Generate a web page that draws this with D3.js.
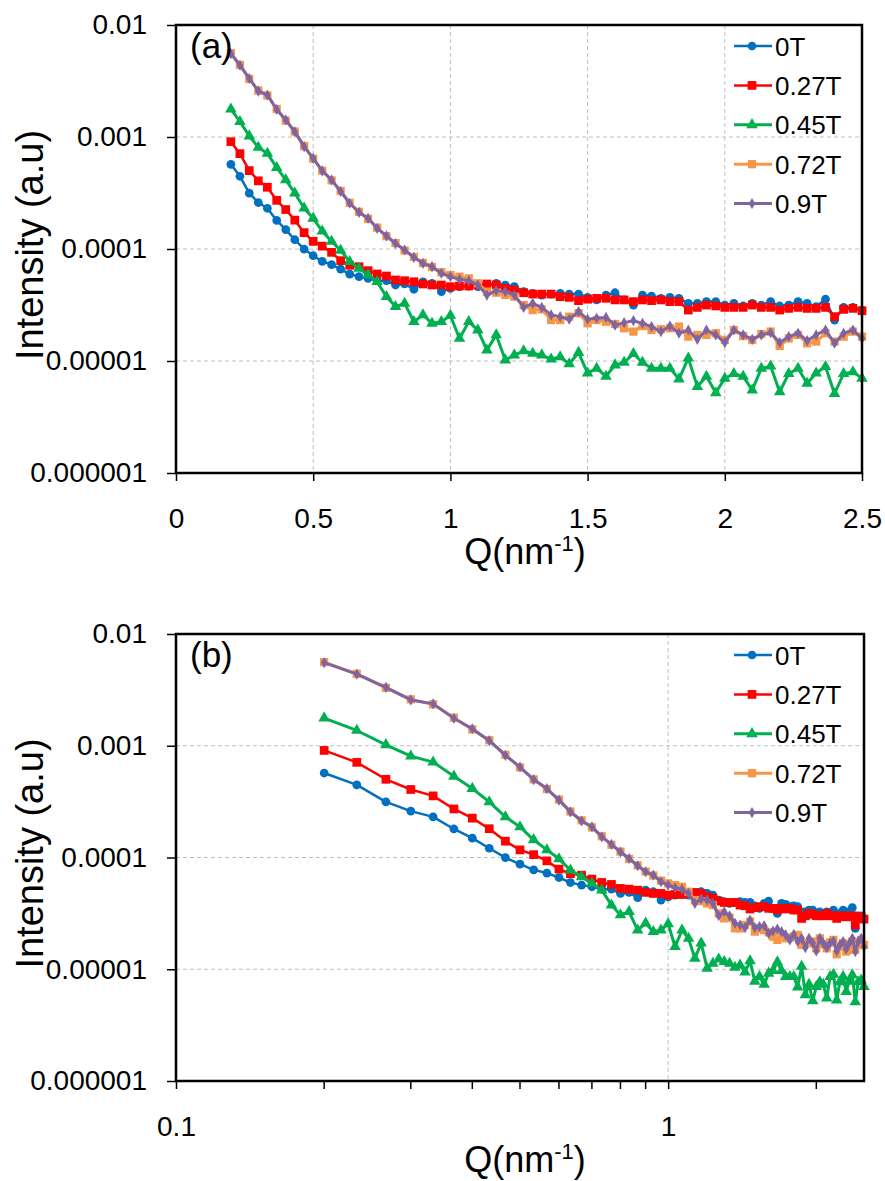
<!DOCTYPE html>
<html>
<head>
<meta charset="utf-8">
<script src="https://cdn.jsdelivr.net/npm/d3@7/dist/d3.min.js"></script>
<style>
  html, body { margin: 0; padding: 0; background: #fff; }
  svg { display: block; }
  text { font-family: "Liberation Sans", Arial, sans-serif; fill: #000; }
</style>
</head>
<body>
<svg id="chart" width="885" height="1181"></svg>
<script>
// ---------------- DATA ----------------
const Q = [0.200,0.233,0.267,0.300,0.333,0.367,0.400,0.433,0.467,0.500,
           0.533,0.567,0.600,0.633,0.667,0.700,0.733,0.767,0.800,0.833,
           0.867,0.900,0.933,0.967,1.000,1.033,1.067,1.100,1.133,1.167,
           1.200,1.233,1.267,1.300,1.333,1.367,1.400,1.433,1.467,1.500,
           1.533,1.567,1.600,1.633,1.667,1.700,1.733,1.767,1.800,1.833,
           1.867,1.900,1.933,1.967,2.000,2.033,2.067,2.100,2.133,2.167,
           2.200,2.233,2.267,2.300,2.333,2.367,2.400,2.433,2.467,2.500];

const I_0T = [5.70e-4,4.46e-4,3.15e-4,2.60e-4,2.31e-4,1.80e-4,1.49e-4,1.21e-4,9.98e-5,8.71e-5,
              7.76e-5,7.25e-5,6.62e-5,5.97e-5,5.66e-5,5.47e-5,5.21e-5,5.21e-5,4.77e-5,4.87e-5,
              4.37e-5,5.10e-5,4.94e-5,4.16e-5,4.45e-5,4.61e-5,4.67e-5,4.61e-5,4.77e-5,4.94e-5,
              4.77e-5,4.61e-5,4.16e-5,4.02e-5,3.88e-5,3.96e-5,4.02e-5,3.96e-5,3.96e-5,3.70e-5,
              3.51e-5,3.88e-5,4.07e-5,3.51e-5,3.16e-5,3.88e-5,3.80e-5,3.63e-5,3.70e-5,3.63e-5,
              3.27e-5,3.27e-5,3.39e-5,3.39e-5,3.16e-5,3.27e-5,3.10e-5,3.27e-5,3.16e-5,3.39e-5,
              3.10e-5,3.16e-5,3.39e-5,3.27e-5,3.06e-5,3.56e-5,2.32e-5,3.01e-5,3.01e-5,2.85e-5];

const I_027T = [9.08e-4,7.10e-4,5.01e-4,4.06e-4,3.56e-4,2.72e-4,2.25e-4,1.81e-4,1.40e-4,1.17e-4,
                1.06e-4,9.33e-5,7.87e-5,7.15e-5,6.95e-5,6.41e-5,5.98e-5,5.74e-5,5.29e-5,5.21e-5,
                5.10e-5,4.87e-5,4.77e-5,4.77e-5,4.61e-5,4.67e-5,4.67e-5,4.77e-5,4.87e-5,4.77e-5,
                4.45e-5,4.30e-5,4.07e-5,3.96e-5,3.96e-5,3.96e-5,3.75e-5,3.70e-5,3.46e-5,3.56e-5,
                3.63e-5,3.63e-5,3.51e-5,3.51e-5,3.39e-5,3.51e-5,3.46e-5,3.51e-5,3.39e-5,3.39e-5,
                2.85e-5,3.01e-5,3.16e-5,3.10e-5,3.01e-5,3.01e-5,3.01e-5,3.16e-5,3.01e-5,3.01e-5,
                2.85e-5,2.95e-5,3.01e-5,2.95e-5,2.95e-5,3.01e-5,2.49e-5,2.89e-5,2.95e-5,2.81e-5];

const I_045T = [1.77e-3,1.37e-3,1.02e-3,8.08e-4,7.14e-4,5.33e-4,4.14e-4,3.15e-4,2.31e-4,1.88e-4,
                1.44e-4,1.17e-4,9.73e-5,7.71e-5,6.71e-5,5.86e-5,5.10e-5,3.75e-5,3.06e-5,3.27e-5,
                2.24e-5,2.58e-5,2.17e-5,2.24e-5,2.55e-5,1.59e-5,2.24e-5,1.89e-5,1.25e-5,1.71e-5,
                1.02e-5,1.13e-5,1.23e-5,1.17e-5,1.13e-5,1.04e-5,1.09e-5,9.4e-6,1.19e-5,7.8e-6,
                8.6e-6,7.3e-6,9.2e-6,9.7e-6,1.16e-5,9.7e-6,8.6e-6,8.6e-6,8.6e-6,6.9e-6,
                1.06e-5,5.9e-6,7.3e-6,5.2e-6,7.0e-6,7.7e-6,7.3e-6,5.5e-6,8.6e-6,9.0e-6,
                5.3e-6,7.7e-6,8.6e-6,6.3e-6,7.8e-6,8.9e-6,5.1e-6,7.7e-6,8.0e-6,7.0e-6];

const I_072T = [5.60e-3,4.40e-3,3.30e-3,2.60e-3,2.35e-3,1.78e-3,1.40e-3,1.12e-3,8.30e-4,6.40e-4,
                5.00e-4,4.10e-4,3.30e-4,2.58e-4,2.15e-4,1.86e-4,1.55e-4,1.30e-4,1.13e-4,9.7e-5,
                8.5e-5,7.5e-5,6.9e-5,6.2e-5,5.86e-5,5.66e-5,5.47e-5,4.94e-5,4.16e-5,4.07e-5,
                3.88e-5,3.75e-5,3.16e-5,2.85e-5,2.89e-5,2.32e-5,2.32e-5,2.49e-5,2.67e-5,2.17e-5,
                2.32e-5,2.24e-5,2.14e-5,1.96e-5,1.83e-5,2.05e-5,1.89e-5,1.92e-5,1.96e-5,2.03e-5,
                1.65e-5,1.71e-5,1.71e-5,1.77e-5,1.54e-5,1.89e-5,1.67e-5,1.54e-5,1.74e-5,1.83e-5,
                1.36e-5,1.59e-5,1.71e-5,1.44e-5,1.49e-5,1.77e-5,1.49e-5,1.65e-5,1.83e-5,1.65e-5];

const I_09T = [5.55e-3,4.37e-3,3.33e-3,2.57e-3,2.37e-3,1.76e-3,1.42e-3,1.11e-3,8.20e-4,6.45e-4,
               4.98e-4,4.14e-4,3.26e-4,2.56e-4,2.12e-4,1.88e-4,1.53e-4,1.31e-4,1.12e-4,9.8e-5,
               8.43e-5,7.45e-5,6.95e-5,6.07e-5,5.66e-5,5.36e-5,5.21e-5,4.77e-5,3.88e-5,4.25e-5,
               4.16e-5,3.88e-5,3.01e-5,3.27e-5,3.01e-5,2.58e-5,2.49e-5,2.36e-5,2.76e-5,2.36e-5,
               2.41e-5,2.45e-5,2.09e-5,2.20e-5,2.29e-5,2.17e-5,2.03e-5,1.83e-5,2.05e-5,1.77e-5,
               1.89e-5,1.56e-5,1.89e-5,1.71e-5,1.46e-5,1.89e-5,1.71e-5,1.56e-5,1.71e-5,1.79e-5,
               1.46e-5,1.65e-5,1.77e-5,1.52e-5,1.71e-5,1.89e-5,1.44e-5,1.77e-5,1.89e-5,1.59e-5];

const seriesNames = ["0T", "0.27T", "0.45T", "0.72T", "0.9T"];
const seriesValues = [I_0T, I_027T, I_045T, I_072T, I_09T];
const seriesColors = ["#0070C0", "#FF0000", "#00B050", "#F79646", "#8064A2"];

const yTickValues = [1e-6, 1e-5, 1e-4, 1e-3, 1e-2];
const yTickLabels = ["0.000001", "0.00001", "0.0001", "0.001", "0.01"];
const xTicksA = [0, 0.5, 1, 1.5, 2, 2.5];
const xTickLabelsA = ["0", "0.5", "1", "1.5", "2", "2.5"];
const xTicksBMajor = [0.1, 1];
const xTickLabelsB = ["0.1", "1"];
const xTicksBMinor = [0.2, 0.3, 0.4, 0.5, 0.6, 0.7, 0.8, 0.9, 2];

// ---------------- STYLE ----------------
const symbols = [
  {type: d3.symbolCircle, size: 60},
  {type: d3.symbolSquare, size: 76},
  {type: d3.symbolTriangle, size: 58},
  {type: d3.symbolSquare, size: 68},
  {type: d3.symbolDiamond, size: 36}
];
const lineWidths = [2.5, 2.5, 3, 3, 3];
const FONT = "Liberation Sans, Arial, sans-serif";

const svg = d3.select("#chart");

function drawPanel(cfg) {
  const g = svg.append("g");
  const {x, y, left, right, top, bottom} = cfg;

  // grid
  const gridStyle = s => s.attr("stroke", "#BFBFBF").attr("stroke-width", 1).attr("stroke-dasharray", "4,3").attr("fill", "none");
  g.selectAll(".hgrid").data(yTickValues.slice(1, -1)).enter().append("line")
    .attr("x1", left).attr("x2", right).attr("y1", d => y(d)).attr("y2", d => y(d)).call(gridStyle);
  g.selectAll(".vgrid").data(cfg.vgrid).enter().append("line")
    .attr("x1", d => x(d)).attr("x2", d => x(d)).attr("y1", top).attr("y2", bottom).call(gridStyle);

  // series
  const line = d3.line().x((d, i) => x(Q[i])).y(d => y(d));
  seriesValues.forEach((vals, si) => {
    const sg = g.append("g");
    sg.append("path").datum(vals).attr("d", line)
      .attr("fill", "none").attr("stroke", seriesColors[si]).attr("stroke-width", lineWidths[si])
      .attr("stroke-linejoin", "round");
    const sym = d3.symbol().type(symbols[si].type).size(symbols[si].size);
    sg.selectAll("path.m").data(vals).enter().append("path").attr("class", "m")
      .attr("transform", (d, i) => `translate(${x(Q[i])},${y(d)})`)
      .attr("d", sym).attr("fill", seriesColors[si]);
  });

  // frame
  g.append("rect").attr("x", left).attr("y", top).attr("width", right - left).attr("height", bottom - top)
    .attr("fill", "none").attr("stroke", "#000").attr("stroke-width", 2.5);

  // y ticks
  const yAxis = d3.axisLeft(y).tickValues(yTickValues).tickSize(9).tickPadding(20)
    .tickFormat((d, i) => yTickLabels[i]);
  const ya = g.append("g").attr("transform", `translate(${left},0)`).call(yAxis);
  ya.select(".domain").remove();
  ya.selectAll("line").attr("stroke", "#000").attr("stroke-width", 1.5);
  ya.selectAll("text").attr("font-size", 28).attr("font-family", FONT);

  // x ticks
  const xa = g.append("g").attr("transform", `translate(0,${bottom})`).call(cfg.xAxis);
  xa.select(".domain").remove();
  xa.selectAll("line").attr("stroke", "#000").attr("stroke-width", 1.5);
  xa.selectAll("text").attr("font-size", 28).attr("font-family", FONT);
  if (cfg.xMinor) {
    g.selectAll(".minor").data(cfg.xMinor).enter().append("line")
      .attr("x1", d => x(d)).attr("x2", d => x(d)).attr("y1", bottom).attr("y2", bottom + 8)
      .attr("stroke", "#000").attr("stroke-width", 1.5);
  }

  // axis titles
  g.append("text").attr("transform", `translate(43,${(top + bottom) / 2 - 4}) rotate(-90)`)
    .attr("text-anchor", "middle").attr("font-size", 38).text("Intensity (a.u)");
  const xt = g.append("text").attr("x", 525).attr("y", bottom + 91).attr("text-anchor", "middle").attr("font-size", 36);
  xt.append("tspan").text("Q(nm");
  xt.append("tspan").attr("dy", -13).attr("font-size", 22).text("-1");
  xt.append("tspan").attr("dy", 13).text(")");

  // panel label
  g.append("text").attr("x", left + 14).attr("y", top + 33).attr("font-size", 35).text(cfg.label);

  // legend
  const lg = g.append("g");
  seriesNames.forEach((name, si) => {
    const ly = top + 21 + si * 39.4;
    lg.append("line").attr("x1", 734).attr("x2", 772).attr("y1", ly).attr("y2", ly)
      .attr("stroke", seriesColors[si]).attr("stroke-width", lineWidths[si]);
    const sym = d3.symbol().type(symbols[si].type).size(symbols[si].size);
    lg.append("path").attr("d", sym).attr("transform", `translate(752,${ly})`).attr("fill", seriesColors[si]);
    lg.append("text").attr("x", 775).attr("y", ly + 9.5).attr("font-size", 26).text(name);
  });
}

// Panel (a): linear Q
const xA = d3.scaleLinear().domain([0, 2.5]).range([176, 862]);
const yA = d3.scaleLog().domain([1e-6, 1e-2]).range([473, 25]);
drawPanel({
  x: xA, y: yA, left: 176, right: 862, top: 25, bottom: 473,
  vgrid: [0.5, 1, 1.5, 2],
  xAxis: d3.axisBottom(xA).tickValues(xTicksA).tickSize(8).tickPadding(27).tickFormat((d, i) => xTickLabelsA[i]),
  label: "(a)"
});

// Panel (b): log Q
const xB = d3.scaleLog().domain([0.1, 2.5]).range([176, 864]);
const yB = d3.scaleLog().domain([1e-6, 1e-2]).range([1081, 634]);
drawPanel({
  x: xB, y: yB, left: 176, right: 864, top: 634, bottom: 1081,
  vgrid: [1],
  xAxis: d3.axisBottom(xB).tickValues(xTicksBMajor).tickSize(8).tickPadding(27).tickFormat((d, i) => xTickLabelsB[i]),
  xMinor: xTicksBMinor,
  label: "(b)"
});
</script>
</body>
</html>
